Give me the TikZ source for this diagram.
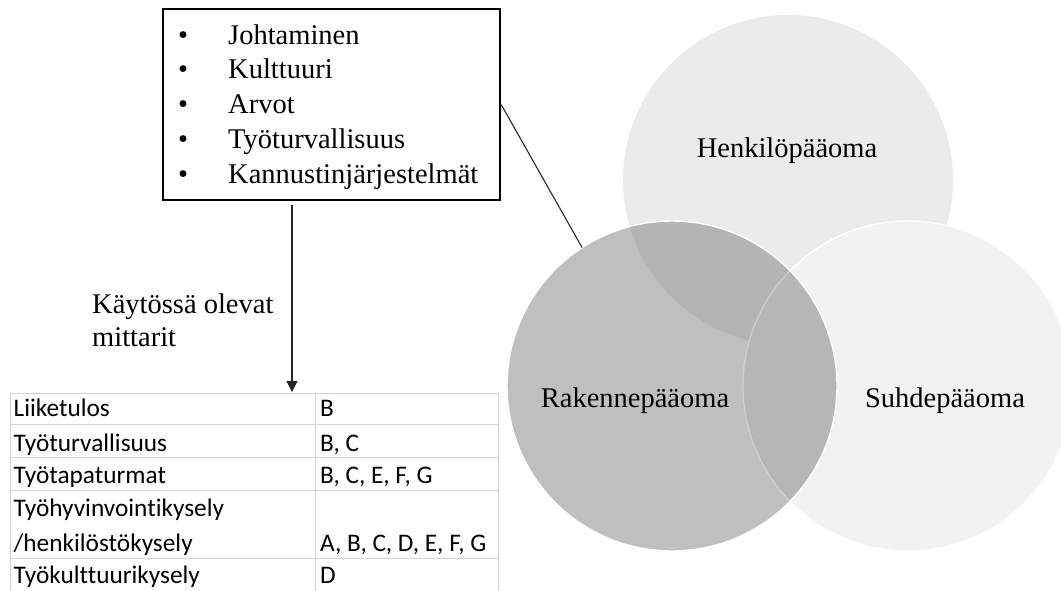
\documentclass[tikz,border=0pt]{standalone}
\usepackage{fontspec}
\setmainfont{Liberation Serif}
\newfontfamily\tablefont[Ligatures={NoCommon}]{Carlito}
\usetikzlibrary{arrows.meta}

\definecolor{henkfill}{HTML}{EBEBEB}
\definecolor{suhdefill}{HTML}{F2F2F2}
\definecolor{rakfill}{HTML}{BFBFBF}
\definecolor{rakhenk}{HTML}{B4B4B4}
\definecolor{raksuhde}{HTML}{B6B6B6}
\definecolor{gridgray}{HTML}{D4D4D4}

\tikzset{
  venn/.style={circle, minimum size=330pt, inner sep=0pt, outer sep=0pt},
  serif/.style={font=\fontsize{28.5}{34}\selectfont, inner sep=0pt, anchor=base},
  listitem/.style={serif, anchor=base west},
  bulletmark/.style={serif},
  cell/.style={font=\tablefont\fontsize{25.3}{30}\selectfont, inner sep=0pt, anchor=base west},
  gridline/.style={draw=gridgray, line width=1pt},
  pointer/.style={line width=1.1pt, draw=black!85},
  arrowline/.style={pointer, -{Triangle[width=11pt,length=11pt]}},
}

\begin{document}
\begin{tikzpicture}[x=1pt, y=-1pt]
\useasboundingbox (0,0) rectangle (1061,590);

% ---- three overlapping capital circles ----
\node[venn] (henk) at (788,180) {};
\node[venn] (suhde) at (908,386) {};
\node[venn] (rak) at (672,386) {};

\fill[henkfill] (henk.center) circle[radius=165pt];
\fill[suhdefill] (suhde.center) circle[radius=165pt];
\draw[white, line width=1.4pt] (suhde.center) circle[radius=165pt];
\fill[rakfill] (rak.center) circle[radius=165pt];
\begin{scope}
  \clip (rak.center) circle[radius=165pt];
  \fill[rakhenk] (henk.center) circle[radius=165pt];
  \fill[raksuhde] (suhde.center) circle[radius=165pt];
  \draw[white, opacity=.35, line width=1.2pt] (suhde.center) circle[radius=165pt];
\end{scope}
\draw[white, line width=1.4pt] (rak.center) circle[radius=165pt];

\node[serif] (lhenk) at (787,157) {Henkilöpääoma};
\node[serif] (lrak) at (635,407) {Rakennepääoma};
\node[serif] (lsuhde) at (945,407) {Suhdepääoma};

% ---- box of factors ----
\node[draw=black, line width=2.2pt, anchor=north west, minimum width=337pt,
      minimum height=191pt, inner sep=0pt] (box) at (162,8) {};
\foreach \t [count=\i] in {Johtaminen, Kulttuuri, Arvot, Työturvallisuus, Kannustinjärjestelmät}{
  \node[bulletmark] (b\i) at (183,{44+34.75*(\i-1)}) {•};
  \node[listitem] (item\i) at (228,{44+34.75*(\i-1)}) {\t};
}

% ---- pointer from box to the structural capital circle ----
\draw[pointer] (box.east) -- (rak.123);

% ---- arrow down to the table of measures ----
\coordinate (arrowstart) at (292,205);
\coordinate (tabletop) at (292,392);
\draw[arrowline] (arrowstart) -- (tabletop);

\node[listitem] (meas1) at (92,313) {Käytössä olevat};
\node[listitem] (meas2) at (92,346) {mittarit};

% ---- table ----
\foreach \y in {393,424,457.5,490,558}{
  \draw[gridline] (10,\y) -- (498,\y);
}
\draw[gridline] (10,393) -- (10,592);
\draw[gridline] (315,393) -- (315,592);
\draw[gridline] (498,393) -- (498,592);

\node[cell] (r1a) at (13.5,416.5) {Liiketulos};
\node[cell] (r1b) at (320,416.5) {B};
\node[cell] (r2a) at (13.5,451) {Työturvallisuus};
\node[cell] (r2b) at (320,451) {B, C};
\node[cell] (r3a) at (13.5,483) {Työtapaturmat};
\node[cell] (r3b) at (320,483) {B, C, E, F, G};
\node[cell] (r4a) at (13.5,516.5) {Työhyvinvointikysely};
\node[cell] (r4c) at (13.5,551.5) {/henkilöstökysely};
\node[cell] (r4b) at (320,551.5) {A, B, C, D, E, F, G};
\node[cell] (r5a) at (13.5,583) {Työkulttuurikysely};
\node[cell] (r5b) at (320,583) {D};
\end{tikzpicture}
\end{document}
